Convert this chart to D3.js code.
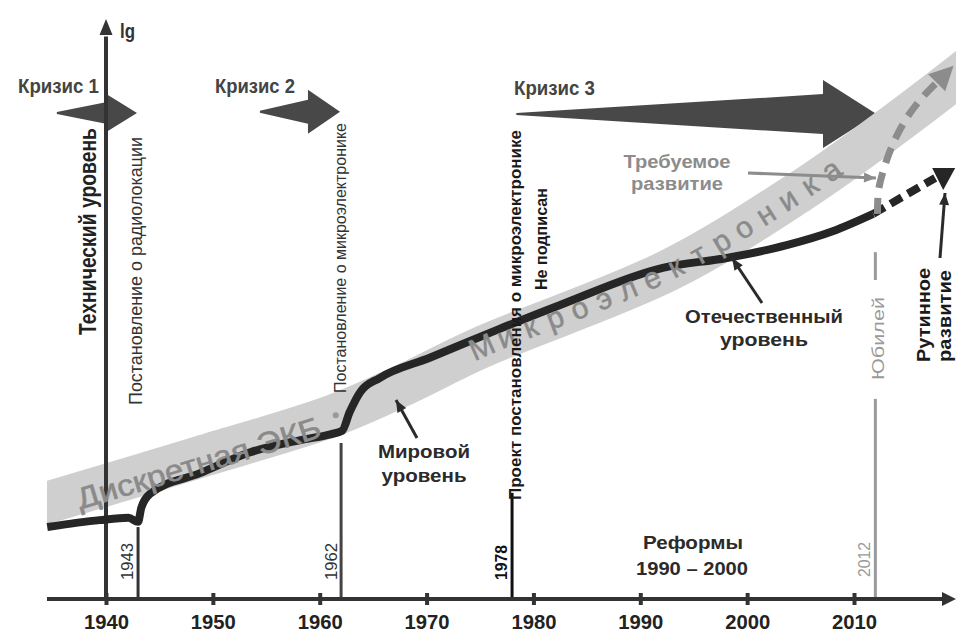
<!DOCTYPE html>
<html>
<head>
<meta charset="utf-8">
<script src="https://cdn.jsdelivr.net/npm/d3@7"></script>
<style>
  body { margin: 0; background: #fff; }
  svg { display: block; font-family: "Liberation Sans Narrow", "Liberation Sans", Arial, sans-serif; }
</style>
</head>
<body>
<svg id="chart" width="956" height="633"></svg>
<script>
// decades on the time axis
var decades = [1940, 1950, 1960, 1970, 1980, 1990, 2000, 2010];

// world level band (Дискретная ЭКБ -> Микроэлектроника): year / lg level
var worldYears  = [1932.9, 1934.5, 1948.8, 1961.2, 1967.5, 1975.0, 1992.8, 2004.9, 2011.8, 2019.5, 2022.7];
var worldLevels = [15.7, 16.6, 24.5, 31.6, 36.6, 43.3, 56.8, 70.2, 79.1, 89.8, 94.5];

// domestic level (Отечественный уровень)
var homeYears  = [1934.5, 1939.4, 1942.1, 1943.0, 1943.3, 1944.1, 1948.8, 1953.5, 1958.2, 1961.0, 1962.1,
                  1962.8, 1963.8, 1965.6, 1970.3, 1976.6, 1982.5, 1992.1, 1998.1, 2003.7, 2008.0, 2011.8];
var homeLevels = [12.4, 13.6, 14.0, 13.3, 15.7, 18.1, 21.7, 25.3, 27.4, 28.4, 29.0,
                  32.2, 35.7, 38.1, 41.6, 46.4, 50.7, 57.1, 58.8, 61.0, 63.4, 66.4];

// routine continuation (dashed black) and required development (dashed grey)
var routineYears   = [2011.8, 2017.6];
var routineLevels  = [66.4, 72.6];
var requiredYears  = [2012.2, 2012.3, 2012.9, 2013.8, 2015.1, 2016.6, 2018.0];
var requiredLevels = [66.4, 70.5, 74.8, 79.1, 83.4, 86.9, 89.5];

// decrees / events
var eventYears = [1943, 1962, 1978, 2012];
var eventTops  = [12.4, 26.9, 18.3, 34.5];

// crises
var crisisNames = ["Кризис 1", "Кризис 2", "Кризис 3"];
var crisisFrom  = [1935.4, 1954.4, 1978.4];
var crisisHead  = [1940.1, 1958.9, 2007.1];
var crisisTo    = [1942.9, 1961.9, 2012.1];
var crisisLevel = [83.8, 84.0, 83.6];

var svg = d3.select("#chart");

var x = d3.scaleLinear().domain([1940, 2010]).range([106, 854]);
var y = d3.scaleLinear().domain([0, 100]).range([599, 19]);

function pts(xs, ys) { return xs.map(function(d, i) { return [x(d), y(ys[i])]; }); }

function head(g, p0, p1, len, wid, color) {
  var a = Math.atan2(p1[1] - p0[1], p1[0] - p0[0]);
  var c = Math.cos(a), s = Math.sin(a);
  var bx = p1[0] - c * len, by = p1[1] - s * len;
  g.append("path")
    .attr("d", "M" + p1[0] + "," + p1[1] +
               "L" + (bx - s * wid / 2) + "," + (by + c * wid / 2) +
               "L" + (bx + s * wid / 2) + "," + (by - c * wid / 2) + "Z")
    .attr("fill", color);
}

function label(txt, px, py, o) {
  var t = svg.append("text")
    .attr("x", px).attr("y", py)
    .attr("text-anchor", o.anchor || "start")
    .attr("font-size", o.size)
    .attr("font-weight", o.bold ? "bold" : "normal")
    .attr("fill", o.color || "#2b2b2b")
    .text(txt);
  if (o.rot) t.attr("transform", "rotate(-90," + px + "," + py + ")");
  if (o.len) t.attr("textLength", o.len).attr("lengthAdjust", "spacingAndGlyphs");
  return t;
}

// crisis arrows
var dark = "#484848";
var shaft = [11, 12, 20], headW = [18.5, 22, 34];
crisisNames.forEach(function(n, i) {
  var x0 = x(crisisFrom[i]), xh = x(crisisHead[i]), xe = x(crisisTo[i]), yc = y(crisisLevel[i]);
  svg.append("path")
    .attr("d", "M" + x0 + "," + (yc - 1) + "L" + xh + "," + (yc - shaft[i]) + "L" + xh + "," + (yc - headW[i]) +
               "L" + xe + "," + yc + "L" + xh + "," + (yc + headW[i]) + "L" + xh + "," + (yc + shaft[i]) +
               "L" + x0 + "," + (yc + 1) + "Z")
    .attr("fill", dark);
});
label("Кризис 1", 18, 93, {size: 20, bold: true, color: "#444", len: 81});
label("Кризис 2", 215, 93, {size: 20, bold: true, color: "#444", len: 80});
label("Кризис 3", 514, 95, {size: 20, bold: true, color: "#444", len: 81});

// world band
svg.append("clipPath").attr("id", "clip").append("rect")
  .attr("x", 47).attr("y", 0).attr("width", 909).attr("height", 633);
var bandLine = d3.line().curve(d3.curveCatmullRom.alpha(0.5));
var band = svg.append("path")
  .attr("id", "band")
  .attr("d", bandLine(pts(worldYears, worldLevels)))
  .attr("fill", "none")
  .attr("stroke", "#cfcfcf")
  .attr("stroke-width", 42)
  .attr("clip-path", "url(#clip)");

// event lines
var evColor = ["#333", "#444", "#111", "#9a9a9a"];
eventYears.forEach(function(d, i) {
  svg.append("line")
    .attr("x1", x(d)).attr("x2", x(d))
    .attr("y1", y(eventTops[i])).attr("y2", y(0))
    .attr("stroke", evColor[i]).attr("stroke-width", 3);
});
svg.append("line")
  .attr("x1", x(2012)).attr("x2", x(2012))
  .attr("y1", y(59.8)).attr("y2", y(55.0))
  .attr("stroke", "#9a9a9a").attr("stroke-width", 3);

// y axis (lg)
svg.append("line")
  .attr("x1", x(1940)).attr("x2", x(1940))
  .attr("y1", y(0)).attr("y2", y(97))
  .attr("stroke", "#333").attr("stroke-width", 4);
head(svg, [x(1940), y(90)], [x(1940), y(100)], 16, 13, "#333");
label("lg", 120, 38, {size: 20, bold: true, color: "#333", len: 15});

// x axis
var axis = svg.append("g")
  .attr("transform", "translate(0," + y(0) + ")")
  .call(d3.axisBottom(x).tickValues(decades).tickFormat(d3.format("d")).tickSize(6).tickPadding(10));
axis.select(".domain").remove();
axis.selectAll(".tick line").attr("y1", -6).attr("y2", 6).attr("stroke", "#333").attr("stroke-width", 4);
axis.selectAll(".tick text")
  .attr("font-family", "Liberation Sans Narrow, Liberation Sans, Arial, sans-serif")
  .attr("font-size", 20).attr("font-weight", "bold").attr("fill", "#222")
  .attr("dy", "0.68em")
  .attr("textLength", 45).attr("lengthAdjust", "spacingAndGlyphs");
svg.append("line")
  .attr("x1", 47).attr("x2", 945)
  .attr("y1", y(0)).attr("y2", y(0))
  .attr("stroke", "#333").attr("stroke-width", 4);
head(svg, [900, y(0)], [956, y(0)], 14, 14, "#333");

// domestic line
svg.append("path")
  .attr("d", d3.line().curve(d3.curveMonotoneX)(pts(homeYears, homeLevels)))
  .attr("fill", "none")
  .attr("stroke", "#262626")
  .attr("stroke-width", 8)
  .attr("stroke-linejoin", "round");

// text along the band
function lengthAtX(node, px) {
  var lo = 0, hi = node.getTotalLength();
  for (var k = 0; k < 40; k++) {
    var mid = (lo + hi) / 2;
    if (node.getPointAtLength(mid).x < px) lo = mid; else hi = mid;
  }
  return lo;
}
var bandNode = band.node();
var l1 = lengthAtX(bandNode, 76), l2 = lengthAtX(bandNode, 318);
svg.append("text")
  .attr("font-size", 30).attr("fill", "#8a8a8a").attr("dy", 16)
  .attr("stroke", "#8a8a8a").attr("stroke-width", 0.6)
  .style("font-family", "Liberation Sans, Arial, sans-serif")
  .append("textPath")
  .attr("href", "#band").attr("startOffset", l1)
  .attr("textLength", l2 - l1).attr("lengthAdjust", "spacingAndGlyphs")
  .text("Дискретная ЭКБ");

// spaced letters of "Микроэлектроника", each set on the band
var word = "Микроэлектроника".split("");
var l3 = lengthAtX(bandNode, 470), l4 = lengthAtX(bandNode, 842);
var step = (l4 - l3) / word.length;
word.forEach(function(ch, i) {
  var s = l3 + step * (i + 0.5);
  var p = bandNode.getPointAtLength(s);
  var q = bandNode.getPointAtLength(s + 1);
  var ang = Math.atan2(q.y - p.y, q.x - p.x) * 180 / Math.PI;
  svg.append("text")
    .attr("transform", "translate(" + p.x + "," + p.y + ") rotate(" + ang + ")")
    .attr("text-anchor", "middle").attr("y", 10)
    .attr("font-size", 30).attr("fill", "#8a8a8a")
    .attr("stroke", "#8a8a8a").attr("stroke-width", 0.5)
    .style("font-family", "Liberation Sans, Arial, sans-serif")
    .text(ch);
});
svg.append("circle").attr("cx", x(1961.5)).attr("cy", y(31.7)).attr("r", 3).attr("fill", "#999");

// routine (black dashed)
var rp = pts(routineYears, routineLevels);
svg.append("path")
  .attr("d", d3.line()(rp))
  .attr("fill", "none").attr("stroke", "#262626").attr("stroke-width", 8)
  .attr("stroke-dasharray", "13,7");
var re = rp[rp.length - 1];
svg.append("path")
  .attr("d", "M" + (re[0] - 3) + "," + (re[1] - 10) + "L" + (re[0] + 20) + "," + (re[1] - 10) + "L" + (re[0] + 8) + "," + (re[1] + 12) + "Z")
  .attr("fill", "#262626");

// required (grey dashed)
var qp = pts(requiredYears, requiredLevels);
svg.append("path")
  .attr("d", d3.line().curve(d3.curveCatmullRom)(qp))
  .attr("fill", "none").attr("stroke", "#8c8c8c").attr("stroke-width", 7)
  .attr("stroke-dasharray", "16,10");
var qa = qp[qp.length - 2], qb = qp[qp.length - 1];
var qang = Math.atan2(qb[1] - qa[1], qb[0] - qa[0]);
head(svg, qb, [qb[0] + Math.cos(qang) * 20, qb[1] + Math.sin(qang) * 20], 24, 24, "#8c8c8c");

// vertical labels
label("Технический уровень", 96, 335, {rot: true, size: 23, bold: true, color: "#222", len: 207});
label("Постановление о радиолокации", 142, 405, {rot: true, size: 18, color: "#333", len: 268});
label("Постановление о микроэлектронике", 346, 393, {rot: true, size: 16, color: "#333", len: 270});
label("Проект постановления о микроэлектронике", 521, 500, {rot: true, size: 17, bold: true, color: "#1a1a1a", len: 370});
label("Не подписан", 547, 290, {rot: true, size: 17, bold: true, color: "#1a1a1a", len: 102});
label("1943", 133, 580, {rot: true, size: 16, color: "#333", len: 37});
label("1962", 337, 580, {rot: true, size: 16, color: "#333", len: 37});
label("1978", 507, 580, {rot: true, size: 16, bold: true, color: "#111", len: 35});
label("2012", 870, 577, {rot: true, size: 16, color: "#9a9a9a", len: 35});
label("Юбилей", 884, 380, {rot: true, size: 17, color: "#9a9a9a", len: 83});
label("Рутинное", 930, 362, {rot: true, size: 19, bold: true, color: "#1a1a1a", len: 94});
label("развитие", 951, 362, {rot: true, size: 19, bold: true, color: "#1a1a1a", len: 92});

// horizontal labels
var sans = {size: 18, bold: true, anchor: "middle", color: "#2b2b2b"};
label("Отечественный", 764, 323, Object.assign({len: 158}, sans)).style("font-family", "Liberation Sans, Arial");
label("уровень", 764, 346, Object.assign({len: 88}, sans)).style("font-family", "Liberation Sans, Arial");
label("Мировой", 424, 458, Object.assign({len: 92}, sans)).style("font-family", "Liberation Sans, Arial");
label("уровень", 424, 482, Object.assign({len: 85}, sans)).style("font-family", "Liberation Sans, Arial");
label("Реформы", 693, 549, Object.assign({len: 100}, sans)).style("font-family", "Liberation Sans, Arial");
label("1990  –  2000", 692, 575, {size: 18, bold: true, anchor: "middle", color: "#2b2b2b", len: 112});
label("Требуемое", 677, 168, {size: 18, bold: true, anchor: "middle", color: "#8c8c8c", len: 107}).style("font-family", "Liberation Sans, Arial");
label("развитие", 677, 190, {size: 18, bold: true, anchor: "middle", color: "#8c8c8c", len: 92}).style("font-family", "Liberation Sans, Arial");

// pointer arrows
function pointer(a, b, color) {
  svg.append("line").attr("x1", a[0]).attr("y1", a[1]).attr("x2", b[0]).attr("y2", b[1])
    .attr("stroke", color).attr("stroke-width", 3);
  head(svg, a, b, 12, 10, color);
}
pointer([417, 438], [396, 400], "#2b2b2b");
pointer([762, 303], [732, 258], "#2b2b2b");
pointer([748, 173], [876, 178], "#8c8c8c");
pointer([940, 258], [945, 193], "#2b2b2b");
</script>
</body>
</html>
